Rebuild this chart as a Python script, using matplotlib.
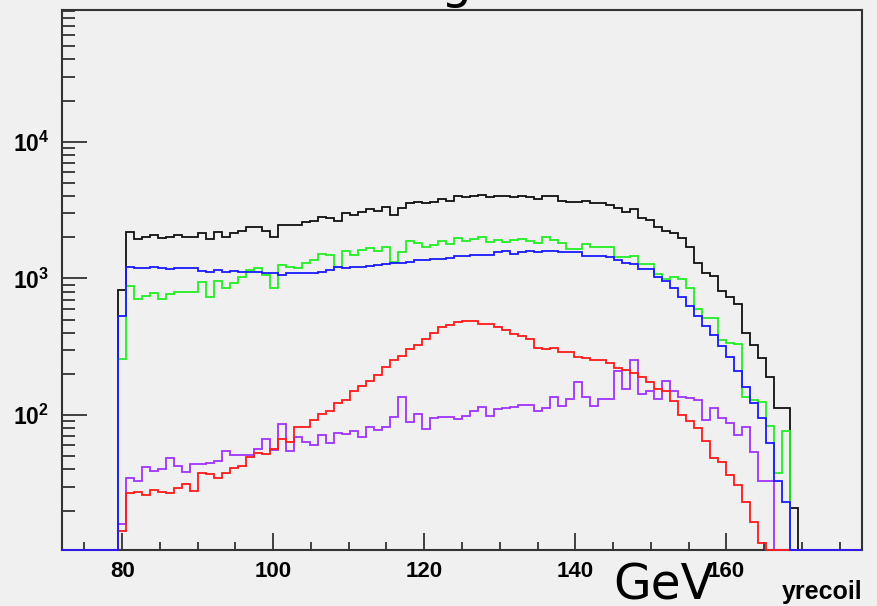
import numpy as np
import matplotlib.pyplot as plt
from matplotlib.ticker import FixedLocator, MultipleLocator, LogLocator, NullFormatter

# binning of the histograms: 100 bins between 72 and 178 GeV
x_lo, x_hi, n_bins = 72.0, 178.0, 100
first_bin = 7          # index of the first filled bin (all series)
y_lo, y_hi = 10.3, 9.2e4

# bin contents, starting at first_bin
black = [821, 2171, 1929, 2018, 2076, 1984, 2018, 2064, 2018, 2018,
         2135, 1929, 2171, 2018, 2135, 2220, 2388, 2388, 2220, 2018,
         2456, 2456, 2456, 2569, 2642, 2827, 2748, 2642, 2990, 2907,
         3041, 3198, 3127, 3307, 2907, 3252, 3538, 3619, 3538, 3619,
         3785, 3701, 4026, 3914, 4026, 4072, 3914, 4026, 4026, 3914,
         4026, 3914, 3806, 4026, 4026, 3701, 3619, 3619, 3701, 3538,
         3538, 3440, 3289, 3041, 3198, 2780, 2688, 2388, 2220, 2135,
         1962, 1705, 1302, 1100, 1046, 808, 734, 649, 396, 323,
         263, 189, 113, 113, 21]
green = [257, 879, 702, 743, 777, 702, 764, 799, 799, 799,
         934, 734, 951, 845, 929, 1017, 1151, 1184, 1058, 845,
         1252, 1217, 1197, 1288, 1362, 1507, 1474, 1204, 1585, 1482,
         1612, 1658, 1594, 1705, 1324, 1567, 1876, 1804, 1705, 1744,
         1876, 1783, 1962, 1886, 1929, 2006, 1834, 1908, 1834, 1908,
         1951, 1876, 1804, 2006, 1908, 1804, 1630, 1630, 1783, 1705,
         1705, 1705, 1440, 1440, 1465, 1273, 1273, 1070, 983, 1028,
         983, 845, 593, 510, 510, 354, 338, 329, 136, 129,
         125, 83, 38, 77]
blue = [533, 1217, 1197, 1184, 1210, 1184, 1164, 1184, 1184, 1184,
        1132, 1106, 1151, 1106, 1132, 1106, 1106, 1106, 1088, 1088,
        1058, 1100, 1100, 1100, 1100, 1119, 1151, 1217, 1184, 1204,
        1217, 1238, 1252, 1266, 1288, 1288, 1309, 1362, 1362, 1377,
        1393, 1416, 1449, 1465, 1474, 1474, 1474, 1558, 1585, 1515,
        1558, 1585, 1558, 1585, 1585, 1550, 1550, 1550, 1465, 1465,
        1465, 1424, 1362, 1302, 1273, 1164, 1164, 1028, 961, 845,
        726, 631, 530, 450, 385, 322, 264, 211, 161, 122,
        96, 63, 33, 23]
red = [14.2, 27.0, 27.5, 26.0, 28.3, 27.5, 26.7, 29.1, 31.3, 27.8,
       37.8, 37.0, 34.4, 37.8, 40.7, 42.6, 49.6, 53.0, 51.8, 56.1,
       66.4, 63.1, 81.2, 82.1, 91.9, 101.7, 107.6, 123, 130, 151,
       163, 178, 196, 223, 251, 270, 302, 327, 358, 400,
       441, 458, 479, 490, 490, 463, 463, 438, 419, 389,
       378, 358, 311, 302, 311, 289, 289, 264, 261, 251,
       251, 239, 222, 213, 202, 191, 175, 154, 151, 127,
       100, 90.9, 79.9, 64.9, 48.7, 45.0, 36.4, 30.7, 23.2, 16.6,
       11.6]
violet = [15.9, 34.4, 32.9, 41.9, 39.1, 40.0, 48.2, 42.3, 38.1, 43.8,
          43.8, 44.8, 46.1, 54.5, 51.0, 51.0, 51.0, 56.1, 66.4, 55.4,
          85.9, 54.8, 69.4, 63.8, 60.3, 71.4, 62.7, 74.3, 72.6, 75.9,
          69.4, 82.1, 77.7, 81.2, 97.2, 136, 89.4, 102, 79.4, 94.5,
          97.2, 97.2, 94.0, 98.3, 107, 115, 98.3, 110, 112.5, 115,
          118, 118, 107, 112.5, 136, 116, 131, 174, 136, 116,
          132, 131, 211, 156, 255, 142, 151, 131, 179, 150,
          136, 134, 129, 91.9, 113, 95.6, 86.9, 71.4, 82.1, 53.9,
          32.9, 32.9]

plt.rcParams['mathtext.fontset'] = 'custom'
plt.rcParams['mathtext.rm'] = 'Liberation Sans'
plt.rcParams['mathtext.bf'] = 'Liberation Sans:bold'

edges = np.linspace(x_lo, x_hi, n_bins + 1)


def full_hist(vals):
    h = np.zeros(n_bins)
    h[first_bin:first_bin + len(vals)] = vals
    # empty bins are drawn on the bottom of the frame, like ROOT does
    return np.where(h > 0, h, y_lo)


bg = '#f0f0f0'
fig = plt.figure(figsize=(8.77, 6.06), dpi=100, facecolor=bg)
ax = fig.add_axes([0.0704, 0.0924, 0.9128, 0.8911], facecolor=bg)

series = [(black, '#111111'), (green, '#22ee22'), (violet, '#a033ff'),
          (red, '#ff1a1a'), (blue, '#1a1aff')]
for vals, col in series:
    ax.stairs(full_hist(vals), edges, baseline=None, color=col, lw=1.3,
              zorder=3, clip_on=False)

ax.set_yscale('log')
ax.set_xlim(x_lo, x_hi)
ax.set_ylim(y_lo, y_hi)

for sp in ax.spines.values():
    sp.set_color('#333333')
    sp.set_linewidth(1.5)

# x ticks
ax.xaxis.set_major_locator(FixedLocator([80, 100, 120, 140, 160]))
ax.xaxis.set_minor_locator(MultipleLocator(5))
ax.set_xticklabels(['80', '100', '120', '140', '160'], fontsize=16,
                   fontweight='bold', family='Liberation Sans')
ax.tick_params(axis='x', which='major', direction='in', length=12, width=1.2,
               pad=8, top=False, color='#222222')
ax.tick_params(axis='x', which='minor', direction='in', length=6, width=1.2,
               top=False, color='#222222')

# y ticks
ax.yaxis.set_major_locator(FixedLocator([100, 1000, 10000]))
ax.set_yticklabels([r'$\mathbf{10^{2}}$', r'$\mathbf{10^{3}}$', r'$\mathbf{10^{4}}$'],
                   fontsize=16.5)
ax.yaxis.set_minor_locator(LogLocator(base=10, subs=np.arange(2, 10)))
ax.yaxis.set_minor_formatter(NullFormatter())
ax.tick_params(axis='y', which='major', direction='in', length=18, width=1.2,
               pad=9, right=False, color='#222222')
ax.tick_params(axis='y', which='minor', direction='in', length=9, width=1.2,
               right=False, color='#222222')

# axis titles / pad title
fig.text(0.757, 0.010, 'GeV', fontsize=35, ha='center', va='baseline',
         family='DejaVu Sans')
fig.text(0.983, 0.012, 'yrecoil', fontsize=18, ha='right', va='baseline',
         fontweight='bold', family='Liberation Sans')
fig.text(0.522, 1.003, 'Right', fontsize=35, ha='center', va='baseline',
         family='DejaVu Sans')

fig.savefig('out.png', dpi=100, facecolor=bg)
